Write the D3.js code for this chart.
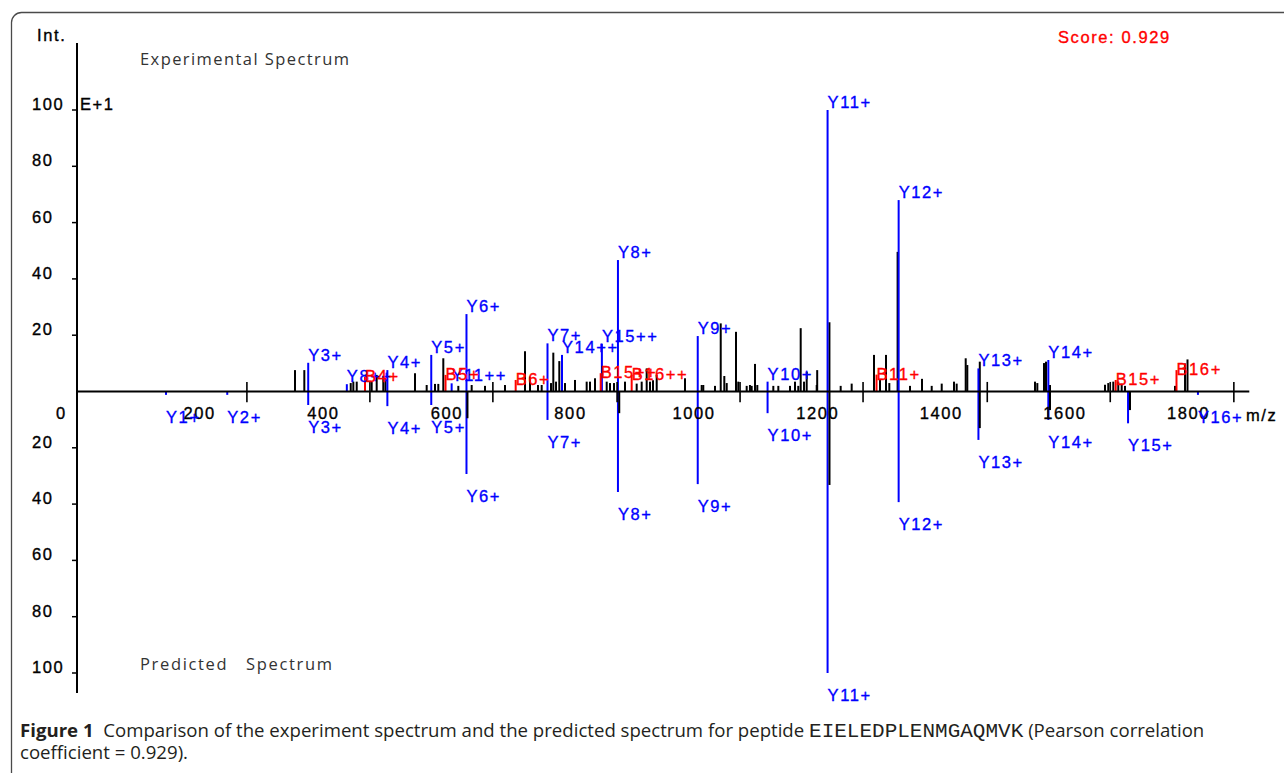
<!DOCTYPE html>
<html><head><meta charset="utf-8">
<script src="https://cdn.jsdelivr.net/npm/d3@7"></script>
<style>
html,body{margin:0;padding:0;background:#fff;}
svg{display:block;}
.bm{font-family:"Liberation Sans",Arial,sans-serif;font-size:16.5px;letter-spacing:1.6px;stroke-width:0.35px;}
</style></head><body>
<svg id="chart" width="1284" height="773"></svg>
<script>
// ---------- data ----------
// unmatched experimental peaks (black, upward)
const expMz  = [355.8,370.9,446.0,450.2,455.7,479.9,488.0,498.7,502.2,550.0,568.9,582.4,587.7,595.8,620.1,641.7,663.3,695.6,728.0,736.1,749.0,755.0,770.1,773.8,778.2,783.5,792.7,808.9,827.8,833.2,841.3,860.2,865.5,872.0,889.8,908.7,916.8,924.9,930.3,935.1,941.1,986.9,1013.9,1016.5,1035.4,1044.7,1050.5,1054.4,1069.4,1073.1,1086.7,1092.0,1094.8,1100.2,1103.9,1129.8,1137.9,1156.8,1164.9,1170.2,1174.1,1179.5,1183.8,1200.0,1200.8,1220.6,1238.8,1256.6,1292.7,1302.4,1312.1,1317.5,1330.9,1351.0,1370.4,1386.1,1402.3,1422.2,1426.5,1441.1,1443.7,1463.9,1553.2,1557.0,1567.8,1571.0,1577.5,1666.5,1671.8,1679.9,1688.0,1693.5,1698.9,1779.8,1796.0,1800.0];
const expInt = [7.6,7.6,3.0,3.5,3.5,3.5,5.9,5.3,4.7,6.5,2.3,2.7,2.7,11.8,2.0,2.3,2.0,2.3,14.3,5.3,2.3,2.3,3.0,13.8,3.5,10.8,3.0,4.1,3.5,3.5,4.7,3.5,3.0,3.0,3.5,2.8,3.5,8.2,3.5,4.0,5.9,4.7,2.3,2.3,2.0,24.2,5.5,3.0,21.2,3.5,2.0,2.3,2.0,9.8,2.3,2.0,2.0,2.0,3.5,2.0,22.5,3.5,7.0,2.3,7.6,24.6,2.0,2.8,13.0,4.1,13.0,3.0,49.6,2.0,4.5,2.0,2.8,3.5,2.8,11.8,9.4,10.6,3.5,3.0,10.1,10.6,2.3,2.4,3.0,3.5,3.5,2.8,2.0,2.0,10.0,11.4];

// matched Y ions in experimental spectrum (blue, upward)
const expYLabels = ["Y3+","Y8++","Y4+","Y5+","Y11++","Y6+","Y7+","Y14++","Y15++","Y8+","Y9+","Y10+","Y11+","Y12+","Y13+","Y14+"];
const expYMz     = [377.2,439.7,505.3,576.3,609.3,633.3,764.4,787.9,852.4,878.4,1007.5,1120.5,1217.6,1332.6,1461.7,1574.8];
const expYInt    = [10.2,2.6,7.6,13.0,2.9,27.5,17.1,13.0,17.0,46.7,19.7,3.5,100,68.0,8.2,11.2];

// matched B ions in experimental spectrum (red, upward)
const expBLabels = ["B4+","B5+","B6+","B15++","B16++","B11+","B15+","B16+"];
const expBMz     = [469.1,599.4,712.9,850.5,900.6,1296.8,1683.8,1782.2];
const expBInt    = [5.3,5.9,4.1,6.5,5.9,6.0,4.1,7.6];

// predicted Y ions (blue, downward)
const predYLabels = ["Y1+","Y2+","Y3+","Y4+","Y5+","Y6+","Y7+","Y8+","Y9+","Y10+","Y11+","Y12+","Y13+","Y14+","Y15+","Y16+"];
const predYMz     = [147.1,246.2,377.2,505.3,576.3,633.3,764.4,878.4,1007.5,1120.5,1217.6,1332.6,1461.7,1574.8,1703.8,1816.9];
const predYInt    = [1.2,1.2,4.8,5.2,4.8,29.3,10.1,35.7,32.9,7.7,100,39.3,17.2,10.1,11.3,1.2];

// other predicted peaks (black, downward)
const predOtherMz  = [634.9,880.5,1220.7,1463.9,1577.5,1707.0];
const predOtherInt = [9.5,7.7,33.2,13.0,6.6,6.6];

// axis
const xTickLabels = [200,400,600,800,1000,1200,1400,1600,1800];
const xCrossTicks = [278,477,676,877,1076,1275,1476,1675,1875];
const yTickValues = [20,40,60,80,100];

// ---------- drawing ----------
const svg = d3.select("#chart");
const x   = d3.scaleLinear().domain([0,1900]).range([75.1, 75.1+1900*0.618]);
const yUp = d3.scaleLinear().domain([0,100]).range([391.5,110]);
const yDn = d3.scaleLinear().domain([0,100]).range([391.5,673]);
const AX = 77;

// frame
svg.append("rect").attr("x",11.5).attr("y",12.5).attr("width",1300).attr("height",800)
  .attr("rx",10).attr("fill","none").attr("stroke","#4a4a4a").attr("stroke-width",1.3);

const g = svg.append("g");

// experimental unmatched
g.selectAll(".exp").data(expMz).join("line")
  .attr("x1",d=>x(d)).attr("x2",d=>x(d)).attr("y1",yUp(0)).attr("y2",(d,i)=>yUp(expInt[i]))
  .attr("stroke","#000").attr("stroke-width",2);

// predicted blue down
g.selectAll(".py").data(predYMz).join("line")
  .attr("x1",d=>x(d)).attr("x2",d=>x(d)).attr("y1",yDn(0)).attr("y2",(d,i)=>yDn(predYInt[i]))
  .attr("stroke","#0000ff").attr("stroke-width",2);

// predicted black down
g.selectAll(".po").data(predOtherMz).join("line")
  .attr("x1",d=>x(d)).attr("x2",d=>x(d)).attr("y1",yDn(0)).attr("y2",(d,i)=>yDn(predOtherInt[i]))
  .attr("stroke","#000").attr("stroke-width",2);

// matched Y up
g.selectAll(".ey").data(expYMz).join("line")
  .attr("x1",d=>x(d)).attr("x2",d=>x(d)).attr("y1",yUp(0)).attr("y2",(d,i)=>yUp(expYInt[i]))
  .attr("stroke","#0000ff").attr("stroke-width",2);

// matched B up
g.selectAll(".eb").data(expBMz).join("line")
  .attr("x1",d=>x(d)).attr("x2",d=>x(d)).attr("y1",yUp(0)).attr("y2",(d,i)=>yUp(expBInt[i]))
  .attr("stroke","#ff0000").attr("stroke-width",2);

// axes
g.append("line").attr("x1",AX).attr("x2",x.range()[1]).attr("y1",yUp(0)).attr("y2",yUp(0))
  .attr("stroke","#000").attr("stroke-width",2);
g.append("line").attr("x1",AX).attr("x2",AX).attr("y1",43).attr("y2",693)
  .attr("stroke","#000").attr("stroke-width",2);
g.selectAll(".xc").data(xCrossTicks).join("line")
  .attr("x1",d=>x(d)).attr("x2",d=>x(d)).attr("y1",yUp(3.4)).attr("y2",yDn(3.8))
  .attr("stroke","#000").attr("stroke-width",1.6);

// y ticks
g.selectAll(".ytu").data(yTickValues).join("line")
  .attr("x1",AX-5).attr("x2",AX).attr("y1",d=>yUp(d)).attr("y2",d=>yUp(d))
  .attr("stroke","#000").attr("stroke-width",1.5);
g.selectAll(".ytd").data(yTickValues).join("line")
  .attr("x1",AX-5).attr("x2",AX).attr("y1",d=>yDn(d)).attr("y2",d=>yDn(d))
  .attr("stroke","#000").attr("stroke-width",1.5);

const bm = (sel, col) => sel.attr("class","bm").attr("fill",col).attr("stroke",col);

bm(g.selectAll(".ylu").data(yTickValues).join("text"),"#000")
  .attr("x",32).attr("y",d=>yUp(d)).text(d=>d);
bm(g.selectAll(".yld").data(yTickValues).join("text"),"#000")
  .attr("x",32).attr("y",d=>yDn(d)).text(d=>d);
bm(g.append("text"),"#000").attr("x",56).attr("y",419).text("0");

// x tick labels
bm(g.selectAll(".xl").data(xTickLabels).join("text"),"#000")
  .attr("x",d=>x(d)+1).attr("y",419).attr("text-anchor","middle").text(d=>d);
bm(g.append("text"),"#000").attr("x",1246).attr("y",421).text("m/z");

// misc texts
bm(g.append("text"),"#000").attr("x",37).attr("y",41).text("Int.");
bm(g.append("text"),"#000").attr("x",80).attr("y",110).text("E+1");
bm(g.append("text"),"#ff0000").attr("x",1058).attr("y",43).text("Score: 0.929");
g.append("text").attr("x",140).attr("y",65).attr("fill","#333")
  .style("font-family","'Open Sans',sans-serif").style("font-size","16.5px")
  .attr("textLength",209).text("Experimental Spectrum");
g.append("text").attr("x",140).attr("y",670).attr("fill","#333")
  .style("font-family","'Open Sans',sans-serif").style("font-size","16.5px").style("white-space","pre")
  .attr("textLength",192).text("Predicted   Spectrum");

// peak labels
bm(g.selectAll(".pyl").data(predYMz).join("text"),"#0000ff")
  .attr("x",d=>x(d)).attr("y",(d,i)=>yDn(predYInt[i])+28).text((d,i)=>predYLabels[i]);
bm(g.selectAll(".eyl").data(expYMz).join("text"),"#0000ff")
  .attr("x",d=>x(d)).attr("y",(d,i)=>yUp(expYInt[i])-2).text((d,i)=>expYLabels[i]);
bm(g.selectAll(".ebl").data(expBMz).join("text"),"#ff0000")
  .attr("x",d=>x(d)).attr("y",(d,i)=>yUp(expBInt[i])+5).text((d,i)=>expBLabels[i]);

// caption
const cap = svg.append("g").style("font-family","'Open Sans',sans-serif").attr("fill","#231f20");
const l1 = cap.append("text").attr("x",20).attr("y",737).style("font-size","17px");
l1.append("tspan").style("font-weight","bold").text("Figure 1");
l1.append("tspan").style("white-space","pre").text("  Comparison of the experiment spectrum and the predicted spectrum for peptide ");
const mono = l1.append("tspan").style("font-family","'Liberation Mono',monospace").style("font-size","21px").text("EIELEDPLENMGAQMVK");
l1.append("tspan").style("white-space","pre").text(" (Pearson correlation");
const l2 = cap.append("text").attr("x",20).attr("y",759).style("font-size","17px").text("coefficient = 0.929).");
// fit the caption width to the figure (mono part keeps its size)
const w = l1.node().getComputedTextLength();
const wm = mono.node().getComputedTextLength();
const fs = 17*(1185-wm)/(w-wm);
l1.style("font-size",fs+"px"); l2.style("font-size",fs+"px");
</script>
</body></html>
